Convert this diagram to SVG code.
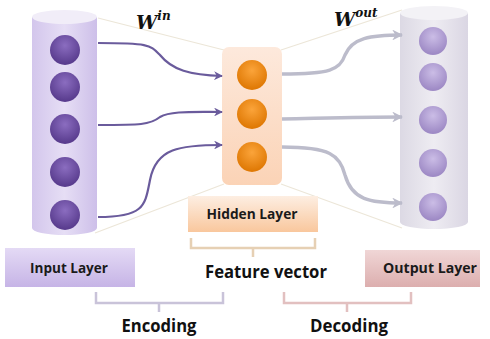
<svg xmlns="http://www.w3.org/2000/svg" width="490" height="339" viewBox="0 0 490 339">
<defs>
<linearGradient id="gIn" x1="0" y1="0" x2="1" y2="0"><stop offset="0" stop-color="#d3c6ec"/><stop offset="0.5" stop-color="#e6def5"/><stop offset="1" stop-color="#cdbfe9"/></linearGradient>
<linearGradient id="gOut" x1="0" y1="0" x2="1" y2="0"><stop offset="0" stop-color="#dcd9e4"/><stop offset="0.5" stop-color="#eeecf2"/><stop offset="1" stop-color="#dad6e3"/></linearGradient>
<linearGradient id="gHid" x1="0" y1="0" x2="0" y2="1"><stop offset="0" stop-color="#fde9dc"/><stop offset="1" stop-color="#fbd3b6"/></linearGradient>
<radialGradient id="gPd" cx="0.5" cy="0.35" r="0.6"><stop offset="0" stop-color="#8b6dc0"/><stop offset="1" stop-color="#5a3d8f"/></radialGradient>
<radialGradient id="gPl" cx="0.5" cy="0.35" r="0.6"><stop offset="0" stop-color="#cbbde6"/><stop offset="1" stop-color="#9f8bc6"/></radialGradient>
<radialGradient id="gOr" cx="0.5" cy="0.35" r="0.6"><stop offset="0" stop-color="#fba43a"/><stop offset="1" stop-color="#e07a06"/></radialGradient>
<linearGradient id="gLIn" x1="0" y1="0" x2="0" y2="1"><stop offset="0" stop-color="#e4daf5"/><stop offset="1" stop-color="#c6b4e6"/></linearGradient>
<linearGradient id="gLHid" x1="0" y1="0" x2="0" y2="1"><stop offset="0" stop-color="#fdeee2"/><stop offset="1" stop-color="#f9c79d"/></linearGradient>
<linearGradient id="gLOut" x1="0" y1="0" x2="0" y2="1"><stop offset="0" stop-color="#f0d6d6"/><stop offset="1" stop-color="#dcaeae"/></linearGradient>
<marker id="aP" viewBox="0 0 10 10" refX="9" refY="5" markerWidth="4" markerHeight="4" orient="auto" markerUnits="strokeWidth"><path d="M0,0 L10,5 L0,10 L3,5 Z" fill="#6a5b9c"/></marker>
<marker id="aG" viewBox="0 0 10 10" refX="9" refY="5" markerWidth="3.2" markerHeight="3.2" orient="auto" markerUnits="strokeWidth"><path d="M0,0 L10,5 L0,10 L3,5 Z" fill="#bcbccb"/></marker>
</defs>
<style>
.lbl{font-family:"Open Sans","Liberation Sans",sans-serif;font-weight:bold;fill:#1a1a1a;text-anchor:middle}
.big{font-family:"Open Sans","Liberation Sans",sans-serif;font-weight:bold;fill:#111;text-anchor:middle;font-size:18px}
.w{font-family:"DejaVu Serif","Liberation Serif",serif;font-weight:bold;font-style:italic;fill:#111}
.faint{fill:none;stroke:#ece6d8;stroke-width:1.2}
.pa{fill:none;stroke:#6a5b9c;stroke-width:2.2;marker-end:url(#aP)}
.ga{fill:none;stroke:#bcbccb;stroke-width:3.4;marker-end:url(#aG)}
.br{fill:none;stroke-width:2.5}
</style>

<g id="faint-lines">
<path class="faint" d="M98,18 L224,50"/>
<path class="faint" d="M95,233 L224,184"/>
<path class="faint" d="M281,50 L402,10"/>
<path class="faint" d="M281,184 L402,228"/>
</g>

<g id="input-layer-cylinder">
<path d="M32,17 L32,228 A32.5,7 0 0 0 97,228 L97,17 Z" fill="url(#gIn)"/>
<ellipse cx="64.5" cy="17" rx="32.5" ry="7" fill="#f1edf8"/>
<circle cx="65" cy="50" r="15" fill="url(#gPd)"/>
<circle cx="65" cy="87" r="15" fill="url(#gPd)"/>
<circle cx="65" cy="129" r="15" fill="url(#gPd)"/>
<circle cx="65" cy="172" r="15" fill="url(#gPd)"/>
<circle cx="65" cy="215" r="15" fill="url(#gPd)"/>
</g>

<g id="hidden-layer-box">
<rect x="222" y="47" width="60" height="138" rx="7" fill="url(#gHid)"/>
<circle cx="252" cy="75" r="15" fill="url(#gOr)"/>
<circle cx="252" cy="114" r="15" fill="url(#gOr)"/>
<circle cx="252" cy="157" r="15" fill="url(#gOr)"/>
</g>

<g id="output-layer-cylinder">
<path d="M400,13 L400,222 A34,7 0 0 0 468,222 L468,13 Z" fill="url(#gOut)"/>
<ellipse cx="434" cy="13" rx="34" ry="7" fill="#f3f2f6"/>
<circle cx="433" cy="41" r="14" fill="url(#gPl)"/>
<circle cx="433" cy="77" r="14" fill="url(#gPl)"/>
<circle cx="433" cy="120" r="14" fill="url(#gPl)"/>
<circle cx="433" cy="163" r="14" fill="url(#gPl)"/>
<circle cx="433" cy="207" r="14" fill="url(#gPl)"/>
</g>

<g id="connectors">
<path class="pa" d="M98,43 C150,43 150,45 160,55 C172,70 190,75 222,76"/>
<path class="pa" d="M98,125 C140,125 150,125 160,117 C170,111 190,112 222,112"/>
<path class="pa" d="M98,217 C145,217 145,205 150,180 C156,148 180,145 222,145"/>
<path class="ga" d="M282,74 C330,74 340,70 345,55 C352,38 370,35 402,35"/>
<path class="ga" d="M282,119 C330,118 360,117 402,117"/>
<path class="ga" d="M282,147 C330,147 340,155 345,175 C352,200 370,203 402,203"/>
</g>

<g id="w-in"><text class="w" x="136" y="29" font-size="19">W<tspan font-size="12" dy="-9">in</tspan></text></g>
<g id="w-out"><text class="w" x="334" y="26" font-size="19">W<tspan font-size="12" dy="-9">out</tspan></text></g>

<g id="hidden-label">
<rect x="188" y="196" width="130" height="36" fill="url(#gLHid)"/>
<text class="lbl" x="252" y="219" font-size="14" textLength="91" lengthAdjust="spacingAndGlyphs">Hidden Layer</text>
</g>
<g id="hidden-bracket"><path class="br" stroke="#e6d0b4" d="M191,238 L191,248 L315,248 L315,238 M253,248 L253,257"/></g>

<g id="input-label">
<rect x="5" y="248" width="130" height="39" fill="url(#gLIn)"/>
<text class="lbl" x="69" y="273" font-size="14" textLength="78" lengthAdjust="spacingAndGlyphs">Input Layer</text>
</g>

<g id="feature-vector"><text class="big" x="266" y="278" font-size="19" textLength="122" lengthAdjust="spacingAndGlyphs">Feature vector</text></g>

<g id="output-label">
<rect x="365" y="250" width="115" height="37" fill="url(#gLOut)"/>
<text class="lbl" x="430" y="273" font-size="14" textLength="94" lengthAdjust="spacingAndGlyphs">Output Layer</text>
</g>

<g id="encoding">
<path class="br" stroke="#c9c3d9" d="M96,292 L96,303 L223,303 L223,292 M159,303 L159,312"/>
<text class="big" x="159" y="332" textLength="75" lengthAdjust="spacingAndGlyphs">Encoding</text>
</g>
<g id="decoding">
<path class="br" stroke="#e2c0c0" d="M284,292 L284,303 L411,303 L411,292 M347,303 L347,312"/>
<text class="big" x="349" y="332" textLength="78" lengthAdjust="spacingAndGlyphs">Decoding</text>
</g>
</svg>
